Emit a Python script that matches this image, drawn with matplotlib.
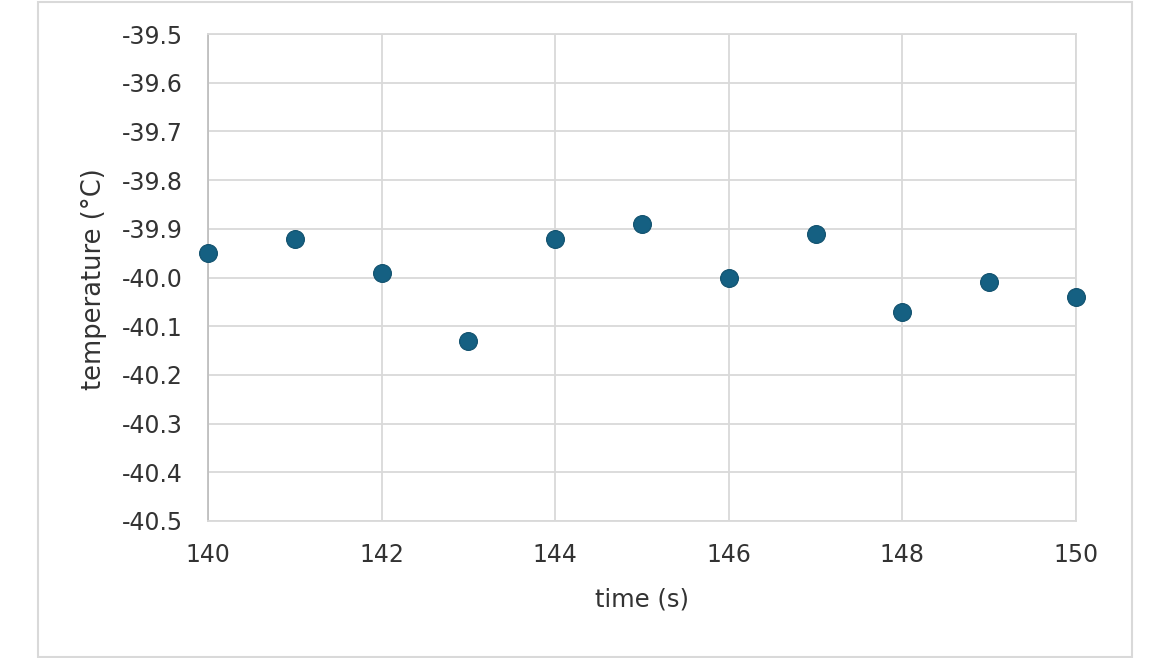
import matplotlib
matplotlib.use('Agg')
import matplotlib.pyplot as plt
from matplotlib.patches import Rectangle

# data
time_s = [140, 141, 142, 143, 144, 145, 146, 147, 148, 149, 150]
temperature = [-39.95, -39.92, -39.99, -40.13, -39.92, -39.89, -40.00, -39.91, -40.07, -40.01, -40.04]
x_ticks = [140, 142, 144, 146, 148, 150]
y_ticks = [-40.5, -40.4, -40.3, -40.2, -40.1, -40.0, -39.9, -39.8, -39.7, -39.6, -39.5]

plt.rcParams['font.family'] = 'DejaVu Sans'

fig = plt.figure(figsize=(11.7, 6.58), dpi=100)
ax = fig.add_axes([208 / 1170, 1 - 521 / 658, 868 / 1170, 487 / 658])

# outer chart frame
fig.patches.append(Rectangle((38 / 1170, 1 / 658), 1094 / 1170, 655 / 658,
                             transform=fig.transFigure, fill=False,
                             edgecolor='#d9d9d9', linewidth=1.5))

ax.scatter(time_s, temperature, s=165, color='#156082', edgecolors='#10506d',
           linewidths=0.8, zorder=3, clip_on=False)

ax.set_xlim(140, 150)
ax.set_ylim(-40.5, -39.5)
ax.set_xticks(x_ticks)
ax.set_yticks(y_ticks)
ax.set_yticklabels([f'{v:.1f}' for v in y_ticks])
ax.grid(True, color='#d9d9d9', linewidth=1.3)
ax.set_axisbelow(True)

for side in ['top', 'right', 'bottom']:
    ax.spines[side].set_color('#d9d9d9')
    ax.spines[side].set_linewidth(1.3)
ax.spines['left'].set_color('#bfbfbf')
ax.spines['left'].set_linewidth(1.3)

ax.tick_params(axis='both', length=0, labelsize=17, colors='#595959', labelcolor='#333333')
ax.tick_params(axis='y', pad=18)
ax.tick_params(axis='x', pad=16)

ax.set_xlabel('time (s)', fontsize=17.5, color='#333333', va='center')
ax.set_ylabel('temperature (°C)', fontsize=18.5, color='#333333', va='center')
ax.xaxis.set_label_coords(0.5, -(599 - 521) / 487)
ax.yaxis.set_label_coords(-(208 - 94) / 868, 0.5 - 1.5 / 487)

plt.savefig('out.png', dpi=100)
